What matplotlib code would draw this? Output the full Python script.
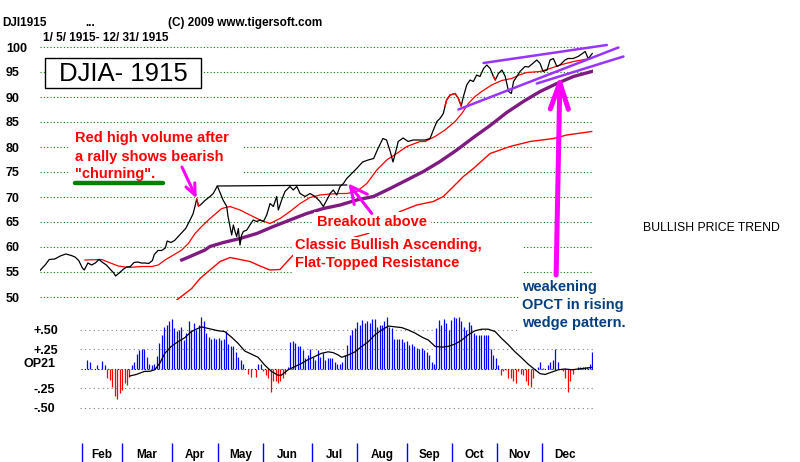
import matplotlib
matplotlib.use('Agg')
import matplotlib.pyplot as plt
import numpy as np
from matplotlib.patches import Rectangle
from matplotlib.transforms import Affine2D

plt.rcParams['font.family'] = ['Liberation Sans', 'DejaVu Sans']

W, H = 800, 462

# ---------------- data (x = trading session index) ----------------
price_x = [0, 3, 5, 8, 11, 14, 17, 19, 21, 23, 24, 26, 28, 30, 32, 34, 36, 38, 40, 41, 43, 45, 47, 49,
           51, 53, 55, 57, 59, 61, 62, 64, 66, 68, 69, 71, 73, 75, 77, 79, 81, 83, 84, 85, 86, 87, 89.5,
           92.2, 94, 96.2, 99.3, 101.3, 102, 103.1, 104, 104.9, 105.8, 106.7, 107.6, 108.5, 109.4, 110.3,
           112.2, 113.9, 115.7, 117.6, 119.4, 121.2, 123, 124.8, 126.6, 128.4, 129.3, 131.1, 132.9, 135.6,
           137.4, 139.3, 141.1, 143.8, 146.5, 149.2, 151.9, 153.7, 155.6, 157.4, 159.1, 161, 162.8, 164.6,
           166.4, 169.1, 171.8, 175, 178, 181, 183, 186, 188, 190, 191.5, 193.7, 194.3, 197, 199.7, 202.4,
           205.1, 208.9, 211.6, 213.4, 215.3, 217, 218.8, 219.7, 220.6, 222.5, 225.2, 227, 228.5, 229.7,
           231.5, 233.3, 235.1, 236.9, 238.7, 240.6, 242.4, 244.2, 246, 247, 248.7, 250.6, 252.4, 254.2,
           255.7, 256.9, 258.7, 260.4, 263.1, 265, 267.3, 269.5, 271.3, 272.9, 275.1, 276.7, 278.5, 280.4,
           282.1, 284.8, 286.4, 289.2, 291.9, 294.2, 295.8, 296.9, 297.5, 299.6]
price_y = [55.3, 56.5, 57.5, 57.6, 58.2, 58.6, 58.3, 58.0, 57.3, 55.8, 55.4, 56.8, 56.4, 56.8, 57.5, 56.9,
           56.4, 55.6, 54.8, 54.2, 54.8, 55.5, 56.0, 56.1, 56.9, 57.0, 56.8, 56.8, 56.7, 57.3, 58.5, 59.3,
           59.3, 59.8, 61.2, 60.9, 61.3, 62.1, 62.9, 63.7, 65.1, 66.6, 68.0, 69.6, 68.2, 68.4, 69.3,
           70.1, 70.7, 72.2, 69.4, 68.1, 66.1, 64.1, 62.4, 64.4, 63.1, 62.1, 63.7, 60.4, 62.4, 63.1,
           63.4, 64.4, 65.4, 65.1, 65.4, 65.1, 66.4, 68.7, 68.1, 70.1, 67.4, 69.4, 71.1, 72.1,
           71.4, 72.1, 70.7, 70.1, 70.7, 70.1, 69.1, 68.1, 69.4, 70.7, 71.4, 70.4, 72.1, 72.7,
           73.7, 74.7, 75.7, 77.0, 77.4, 77.7, 79.4, 81.7, 81.4, 79.1, 77.0, 80.1, 81.1, 81.8, 81.1, 81.4,
           81.4, 81.4, 81.7, 83.4, 85.1, 85.7, 86.7, 88.1, 89.4, 90.4, 90.7, 89.7, 88.2, 90.1,
           92.4, 93.4, 93.1, 94.4, 94.1, 95.7, 96.4, 95.7, 94.1, 93.4, 94.7, 95.4, 94.1, 91.1,
           90.7, 93.1, 94.1, 95.1, 96.1, 96.0, 96.7, 97.4, 96.7, 95.1, 95.4, 97.4, 97.7, 96.1,
           96.4, 97.4, 97.7, 97.7, 98.1, 98.7, 99.1, 98.1, 97.7, 98.7]
high_volume_ranges = [(84.5, 86.5), (219.5, 228.6), (245.5, 247.5)]

ma_short_x = [24.4, 33.5, 38.9, 42.5, 47.9, 55.2, 60.6, 64.2, 67.8, 71.5, 76.9, 80.5, 84.1, 87.7, 92.2,
              98.6, 103.1, 108.5, 113.9, 119.4, 124.8, 130.2, 135.6, 141.1, 146.5, 151.9, 157.4, 162.8,
              166.4, 171.8, 177.3, 182.7, 188.1, 193.5, 199, 206.2, 208.9, 214.3, 219.7, 225.2, 228.8,
              232.4, 236, 239.6, 245, 250.5, 255.9, 260, 264.1, 271.3, 276.7, 282.1, 289.4, 298.4]
ma_short_y = [57.4, 57.5, 56.7, 56.2, 55.9, 56.1, 56.1, 56.4, 57.4, 58.2, 59.4, 60.7, 62.7, 64.1, 65.7,
              67.7, 68.1, 67.4, 66.4, 65.4, 64.7, 65.7, 67.1, 68.7, 69.9, 70.4, 70.6, 70.7,
              70.7, 71.1, 72.7, 75.4, 77.4, 78.7, 80.1, 81.1, 81.1, 82.1, 83.4, 85.1, 86.7,
              88.7, 90.1, 91.1, 92.4, 93.3, 93.7, 94.4, 94.9, 95.1, 95.7, 96.4, 97.1, 97.7]

ma_long_x = [76.9, 81.4, 89.5, 92.2, 99.5, 108.5, 117.6, 126.6, 135.6, 144.7, 153.7, 162.8, 171.8, 180.9,
             189.9, 199, 208, 217, 226.1, 235.1, 244.2, 253.2, 262.2, 271.3, 280.4, 289.4, 299.3]
ma_long_y = [57.4, 58.1, 59.4, 60.1, 60.9, 61.7, 62.7, 64.1, 65.4, 66.7, 67.7, 68.4, 69.4, 70.1,
             71.7, 73.4, 75.1, 77.1, 79.4, 81.9, 84.3, 86.9, 89.1, 91.1, 92.7, 94.1, 95.1]

band_x = [74.2, 82.3, 86.8, 92.2, 97.7, 103.1, 108.5, 113.9, 119.4, 124.8, 130.2, 135.6, 137.4, 150,
          165, 178, 195.3, 204.4, 213.4, 218.8, 224.3, 229.7, 235.1, 244.2, 255, 265.9, 278.5, 285.8, 299.3]
band_y = [49.4, 51.7, 53.7, 55.4, 57.1, 57.9, 57.5, 57.1, 56.2, 55.4, 55.5, 57.7, 58.4, 60.0,
          61.4, 62.7, 67.1, 68.4, 69.1, 70.1, 72.1, 74.1, 75.7, 78.7, 80.1, 81.1, 81.7, 82.4, 83.1]

resist_x = [96.2, 166.4]
resist_y = [72.2, 72.4]

wedge_x = [[240.6, 307.5], [227.0, 313.8], [269.5, 316.5]]
wedge_y = [[96.8, 100.4], [87.5, 99.9], [92.7, 98.1]]

op21_vals = [0.115, 0.094, 0, 0, 0.05, 0, 0.10, 0.05,
             -0.12, -0.14, -0.23, -0.35, -0.38, -0.31, -0.27, -0.18, -0.21, -0.10,
             0.05, 0.09, 0.19, 0.24, 0.26, 0.26, 0.16, 0.07, 0.05, 0.06,
             0.17, 0.33, 0.44, 0.54, 0.56, 0.61, 0.64, 0.53, 0.49, 0.50,
             0.54, 0.37, 0.46, 0.61, 0.50, 0.59, 0.50, 0.56, 0.66, 0.61,
             0.46, 0.41, 0.39, 0.40, 0.38, 0.40, 0.37, 0.38, 0.49, 0.32,
             0.29, 0.29, 0.22, 0.15, 0.12, 0.07,
             0, -0.06, -0.10, 0, -0.10, 0.06, 0.06, -0.03, -0.08, -0.12, -0.29, -0.16, -0.16,
             -0.18, -0.16, -0.12, -0.06, 0.02,
             0.35, 0.36, 0.33, 0.29, 0.30, 0.24, 0.14, 0.18, 0.26, 0.15, 0.12, 0.24, 0.16, 0.20,
             0.12, 0.14, 0.14, 0.14, 0.09, 0.07, 0.07, 0.09,
             0.18, 0.31, 0.44, 0.50, 0.52, 0.60, 0.56, 0.63, 0.59, 0.61,
             0.59, 0.64, 0.64, 0.54, 0.57, 0.56, 0.61, 0.67, 0.54, 0.52,
             0.38, 0.38, 0.38, 0.38, 0.35, 0.36, 0.31, 0.32, 0.29, 0.27,
             0.26, 0.27, 0.24, 0.22, 0.18, 0.09, 0.07, 0.52, 0.63, 0.56,
             0.64, 0.59, 0.50, 0.63, 0.67, 0.65, 0.67, 0.61, 0.54, 0.50,
             0.60, 0.56, 0.46, 0.44, 0.44, 0.44, 0.44, 0.44, 0.44, 0.26,
             0.18, 0.14, 0.05,
             -0.08, -0.03, -0.01, -0.12, -0.12, -0.16, -0.18, -0.03, -0.07, -0.08, -0.16, -0.21,
             -0.23, -0.12,
             0, 0.03, 0.09, 0.01, 0, 0.05, 0.09, 0.12, 0.26, 0.09,
             0, -0.03, -0.12, -0.29, -0.16, -0.06,
             0, 0.03, 0.03, 0.03, 0.03, 0.03, 0.07, 0.22]
op21_first, op21_last = 25.7, 299.7

op21_ma_x = [48.7, 52.3, 56.8, 59.5, 62.2, 64.9, 67.7, 71.2, 74.9, 78.5, 82.1, 84.8, 87.5, 91.2, 96.6,
             100.2, 103.8, 107.4, 111.1, 114.7, 118.3, 121.9, 125.5, 129.1, 130.9, 134.6, 138.2, 141.8,
             145.4, 149.1, 152.6, 156.3, 159, 161.7, 163.7, 167.3, 170.9, 174.6, 178.1, 181.8, 185.4,
             189, 192.6, 196.3, 199.8, 203.5, 207.1, 210.7, 214.3, 218, 221.5, 225.2, 228.8, 232.4,
             236, 239.7, 243.2, 246.9, 250.5, 254.1, 257.7, 261.4, 264.9, 268.6, 271.3, 274, 277.6,
             281.2, 284.9, 288.5, 292.1, 295.7, 299.3]
op21_ma_y = [-0.09, -0.07, -0.03, -0.03, -0.01, 0.07, 0.20, 0.29, 0.35, 0.40, 0.48, 0.51, 0.54, 0.52, 0.49,
             0.48, 0.41, 0.33, 0.23, 0.19, 0.15, 0.05, -0.03, -0.08, -0.08, -0.01, 0.03, 0.07,
             0.12, 0.16, 0.20, 0.22, 0.21, 0.18, 0.15, 0.18, 0.22, 0.29, 0.35, 0.44, 0.50,
             0.55, 0.54, 0.53, 0.50, 0.46, 0.41, 0.37, 0.29, 0.28, 0.29, 0.32, 0.37, 0.44,
             0.49, 0.51, 0.51, 0.48, 0.39, 0.31, 0.22, 0.14, 0.06, -0.01, -0.06, -0.07, -0.04,
             -0.01, 0.0, -0.01, 0.0, 0.01, 0.02]

months = ['Feb', 'Mar', 'Apr', 'May', 'Jun', 'Jul', 'Aug', 'Sep', 'Oct', 'Nov', 'Dec']
month_starts = [22.8, 44.5, 71.6, 96.6, 121.0, 147.6, 172.0, 199.1, 223.5, 247.9, 272.3, 297.3]

price_ticks = [100, 95, 90, 85, 80, 75, 70, 65, 60, 55, 50]
op_ticks = [0.5, 0.25, -0.25, -0.5]
op_tick_labels = ['+.50', '+.25', '-.25', '-.50']

# ---------------- figure ----------------
fig = plt.figure(figsize=(8, 4.62), dpi=100)
fig.patch.set_facecolor('white')
pix = Affine2D().scale(1.0 / W, -1.0 / H).translate(0, 1) + fig.transFigure


def frac(l, t, r, b):
    return [l / W, 1 - b / H, (r - l) / W, (b - t) / H]


ax = fig.add_axes(frac(40, 30, 593, 300))
axo = fig.add_axes(frac(40, 310, 593, 430))
axm = fig.add_axes(frac(40, 440, 593, 462))
ax.set_zorder(3)
ax.patch.set_visible(False)

BOLD = dict(fontweight='bold')

# ---- upper panel ----
ax.set_xlim(0, 300)
ax.set_ylim(49.4, 103.4)
for sp in ax.spines.values():
    sp.set_visible(False)
ax.set_xticks([])
ax.set_yticks(price_ticks)
ax.set_yticklabels([str(t) for t in price_ticks], fontsize=9, fontweight='bold', ha='left')
ax.tick_params(axis='y', length=0, pad=24.5)
for t in price_ticks:
    ax.axhline(t, color='#008000', lw=0.8, ls=(0, (1, 2)), zorder=1)

# white areas behind the hand-made annotations
for (l, t, r, b) in [(70, 126, 242, 185), (293, 237, 522, 276), (519, 279, 634, 334)]:
    ax.add_patch(Rectangle((l, t), r - l, b - t, transform=pix, facecolor='white',
                           edgecolor='none', zorder=2.5, clip_on=False))

ax.plot(band_x, band_y, color='#ff0000', lw=1.0, zorder=2)
ax.plot(ma_long_x, ma_long_y, color='#7f1a80', lw=2.4, zorder=3)
ax.plot(ma_short_x, ma_short_y, color='#ff0000', lw=0.9, zorder=3.2)
px_arr = np.array(price_x)
py_arr = np.array(price_y)
ax.plot(px_arr, py_arr, color='black', lw=0.9, zorder=3.5)
for a, b in high_volume_ranges:
    m = (px_arr >= a) & (px_arr <= b)
    ax.plot(px_arr[m], py_arr[m], color='#ff0000', lw=1.0, zorder=3.6)
ax.plot(resist_x, resist_y, color='black', lw=0.9, zorder=3.5)
for wx, wy in zip(wedge_x, wedge_y):
    ax.plot(wx, wy, color='#9933ff', lw=1.8, zorder=4, clip_on=False, solid_capstyle='round')

# arrows
def arrow(tail, tip, lw, hl, hw):
    ax.annotate('', xy=tip, xytext=tail, zorder=6, annotation_clip=False,
                arrowprops=dict(arrowstyle='->,head_length=%s,head_width=%s' % (hl, hw),
                                color='#ff00ff', lw=lw, mutation_scale=10,
                                shrinkA=0, shrinkB=0))

arrow((77.0, 76.0), (85.0, 69.7), 2.2, 0.8, 0.35)
arrow((180.0, 66.7), (167.3, 72.7), 2.2, 1.2, 0.6)
arrow((280.0, 54.4), (282.1, 94.4), 3.6, 1.9, 0.65)

# header texts
def T(x, y, s, **kw):
    kw.setdefault('va', 'center')
    kw.setdefault('ha', 'left')
    return ax.text(x, y, s, transform=pix, zorder=5, clip_on=False, **kw)

T(2, 23, 'DJI1915', fontsize=8.5, **BOLD)
T(85, 23, '...', fontsize=8.5, **BOLD)
T(168, 23, '(C) 2009 www.tigersoft.com', fontsize=8.5, **BOLD)
T(43, 38, '1/ 5/ 1915- 12/ 31/ 1915', fontsize=8.5, **BOLD)

ax.add_patch(Rectangle((45, 58), 156, 30, transform=pix, facecolor='white',
                       edgecolor='black', lw=1.0, zorder=5, clip_on=False))
T(123, 74, 'DJIA- 1915', fontsize=18.5, ha='center')

RED = '#ff0000'
NAVY = '#063f80'
T(75, 138, 'Red high volume after', fontsize=10.5, color=RED, **BOLD)
T(75, 157, 'a rally shows bearish', fontsize=10.5, color=RED, **BOLD)
T(75, 174, '"churning".', fontsize=10.5, color=RED, **BOLD)
ax.plot([75, 163], [183, 183], transform=pix, color='#008000', lw=3.2,
        solid_capstyle='round', clip_on=False, zorder=5)

T(317, 222, 'Breakout above', fontsize=10.5, color=RED,
  bbox=dict(facecolor='white', edgecolor='none', pad=2.5), **BOLD)
T(295, 245, 'Classic Bullish Ascending,', fontsize=10.5, color=RED, **BOLD)
T(295, 263, 'Flat-Topped Resistance', fontsize=10.5, color=RED, **BOLD)

T(522, 287, 'weakening', fontsize=10.5, color=NAVY, **BOLD)
T(522, 305, 'OPCT in rising', fontsize=10.5, color=NAVY, **BOLD)
T(522, 323, 'wedge pattern.', fontsize=10.5, color=NAVY, **BOLD)

T(643, 228, 'BULLISH PRICE TREND', fontsize=8.8)

# ---- lower panel (OP21) ----
axo.set_xlim(0, 300)
axo.set_ylim(-0.782, 0.756)
for sp in axo.spines.values():
    sp.set_visible(False)
axo.set_xticks([])
axo.set_yticks(op_ticks)
axo.set_yticklabels(op_tick_labels, fontsize=9, fontweight='bold', ha='left')
axo.tick_params(axis='y', length=0, pad=5)
for t in op_ticks:
    axo.hlines(t, 21.7, 300, color='#808080', lw=0.8, ls=(0, (1, 3)), zorder=1)
axo.hlines(0, 22, 300, color='black', lw=0.8, ls=(0, (1, 2)), zorder=1)
vals = np.array(op21_vals)
bar_x = np.linspace(op21_first, op21_last, len(vals))
cols = ['#0000ff' if v > 0 else '#ff0000' for v in vals]
axo.vlines(bar_x, 0, vals, colors=cols, lw=0.9, zorder=2)
axo.plot(op21_ma_x, op21_ma_y, color='black', lw=0.9, zorder=3)
fig.text(23 / W, 1 - 364 / H, 'OP21', fontsize=9, fontweight='bold', ha='left', va='center')

# ---- month strip ----
axm.set_xlim(0, 300)
axm.set_ylim(0, 1)
axm.axis('off')
axm.vlines(month_starts[:-1], 0, 0.86, color='#0000ff', lw=1.0)
for i, m in enumerate(months):
    axm.text((month_starts[i] + month_starts[i + 1]) / 2, 0.32, m, ha='center', va='center',
             fontsize=8.5, fontweight='bold')

fig.savefig('out.png', dpi=100, facecolor='white')
